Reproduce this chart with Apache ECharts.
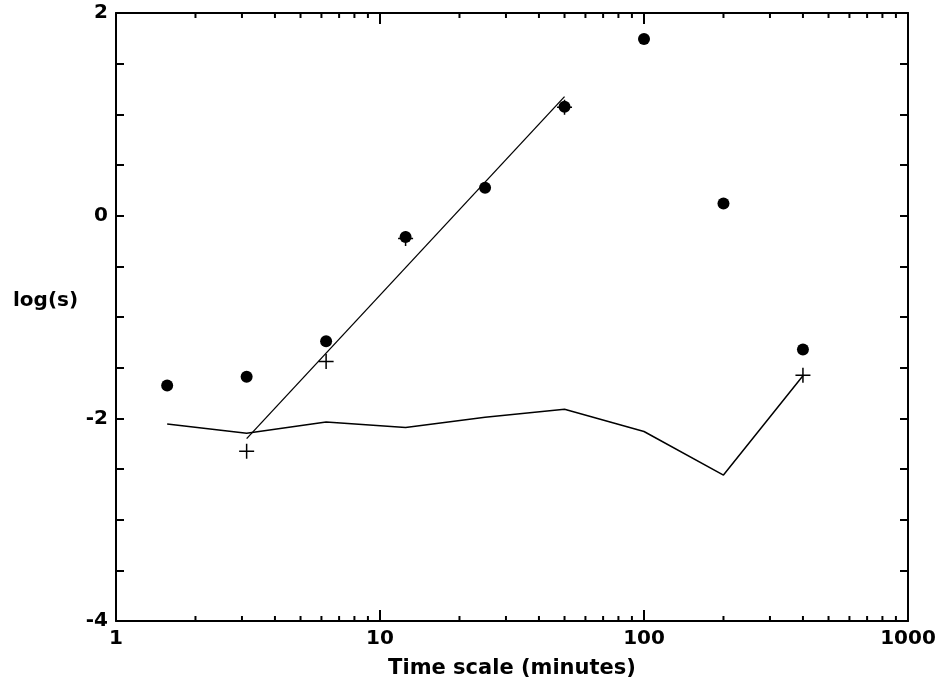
<!DOCTYPE html>
<html>
<head>
<meta charset="utf-8">
<script src="https://cdn.jsdelivr.net/npm/echarts@6/dist/echarts.min.js"></script>
<style>
html,body{margin:0;padding:0;background:#fff;}
#chart{width:941px;height:684px;}
</style>
</head>
<body>
<div id="chart"></div>
<script>
// Data
var timeScales = [1.5625, 3.125, 6.25, 12.5, 25, 50, 100, 200, 400];
var dotValues = [-1.675, -1.59, -1.24, -0.21, 0.276, 1.074, 1.744, 0.12, -1.32];
var noiseValues = [-2.056, -2.148, -2.036, -2.09, -1.99, -1.91, -2.13, -2.56, -1.58];
var plusTimes = [3.125, 6.25, 12.5, 50, 400];
var plusValues = [-2.325, -1.438, -0.225, 1.07, -1.576];
var fitTimes = [3.125, 50];
var fitValues = [-2.2, 1.175];
var xMinorTicks = [2,3,4,5,6,7,8,9,20,30,40,50,60,70,80,90,200,300,400,500,600,700,800,900];
var yLabelValues = [2, 0, -2, -4];
var xTitle = 'Time scale (minutes)';
var yTitle = 'log(s)';

function pairs(xs, ys){ return xs.map(function(x,i){ return [x, ys[i]]; }); }

var FONT = '"DejaVu Sans", sans-serif';
var chart = echarts.init(document.getElementById('chart'), null, {renderer:'canvas'});

var axisLine = {show:true, onZero:false, lineStyle:{color:'#000', width:2}};

var option = {
  animation:false,
  backgroundColor:'#fff',
  grid:{left:116, right:33, top:13, bottom:62, containLabel:false},
  graphic:[{
    type:'text', left:13, top:291,
    style:{text:yTitle, font:'bold 20px ' + FONT, fill:'#000'}
  }],
  xAxis:[{
    type:'log', logBase:10, min:1, max:1000, position:'bottom',
    axisLine:axisLine,
    axisTick:{show:true, inside:true, length:11, lineStyle:{color:'#000', width:2}},
    axisLabel:{color:'#000', fontFamily:FONT, fontWeight:'bold', fontSize:20, margin:8,
      formatter:function(v){ return String(Math.round(v)); }},
    splitLine:{show:false},
    name:xTitle, nameLocation:'middle', nameGap:37,
    nameTextStyle:{color:'#000', fontFamily:FONT, fontWeight:'bold', fontSize:21}
  },{
    type:'log', logBase:10, min:1, max:1000, position:'top',
    axisLine:axisLine,
    axisTick:{show:true, inside:true, length:11, lineStyle:{color:'#000', width:2}},
    axisLabel:{show:false}, splitLine:{show:false}
  }],
  yAxis:[{
    type:'value', min:-4, max:2, interval:0.5, position:'left',
    axisLine:axisLine,
    axisTick:{show:true, inside:true, length:8, lineStyle:{color:'#000', width:2}},
    axisLabel:{color:'#000', fontFamily:FONT, fontWeight:'bold', fontSize:20, margin:8,
      formatter:function(v){ return yLabelValues.indexOf(v) >= 0 ? String(v) : ''; }},
    splitLine:{show:false}
  },{
    type:'value', min:-4, max:2, interval:0.5, position:'right',
    axisLine:axisLine,
    axisTick:{show:true, inside:true, length:8, lineStyle:{color:'#000', width:2}},
    axisLabel:{show:false}, splitLine:{show:false}
  }],
  series:[
    {
      type:'custom', xAxisIndex:0, yAxisIndex:0, clip:false, silent:true, z:5,
      data:xMinorTicks.map(function(v){ return [v, -4]; }),
      renderItem:function(params, api){
        var v = api.value(0);
        var b = api.coord([v, -4]);
        var t = api.coord([v, 2]);
        return {type:'group', children:[
          {type:'line', shape:{x1:b[0], y1:b[1], x2:b[0], y2:b[1]-5}, style:{stroke:'#000', lineWidth:2}},
          {type:'line', shape:{x1:t[0], y1:t[1], x2:t[0], y2:t[1]+5}, style:{stroke:'#000', lineWidth:2}}
        ]};
      }
    },
    {
      type:'line', data:pairs(timeScales, noiseValues), showSymbol:false, symbol:'none',
      lineStyle:{color:'#000', width:1.5}, z:3
    },
    {
      type:'line', data:pairs(fitTimes, fitValues), showSymbol:false, symbol:'none',
      lineStyle:{color:'#000', width:1.3}, z:3
    },
    {
      type:'scatter', data:pairs(plusTimes, plusValues),
      symbol:'path://M6.3,0H7.7V6.3H14V7.7H7.7V14H6.3V7.7H0V6.3H6.3Z', symbolSize:15,
      itemStyle:{color:'#000', opacity:1}, z:4
    },
    {
      type:'scatter', data:pairs(timeScales, dotValues), symbol:'circle', symbolSize:12,
      itemStyle:{color:'#000', opacity:1}, z:6
    }
  ]
};
chart.setOption(option);
</script>
</body>
</html>
